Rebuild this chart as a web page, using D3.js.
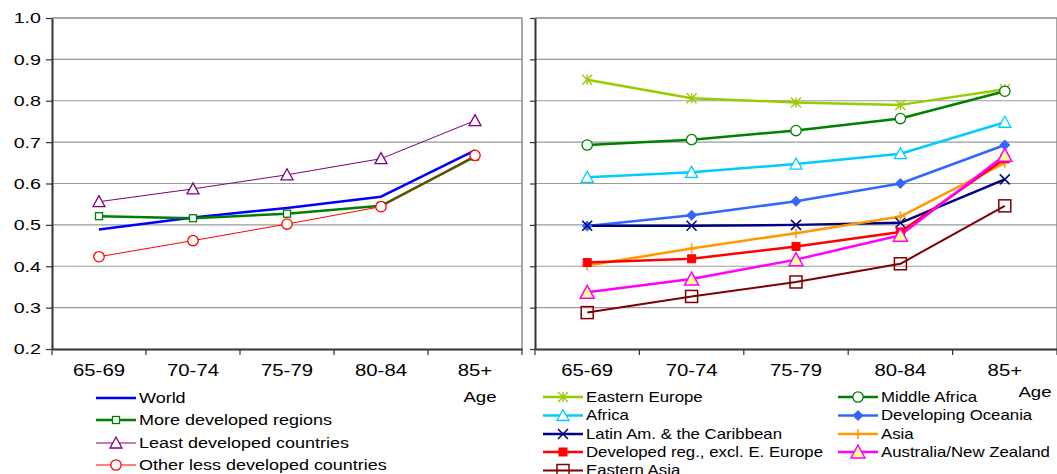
<!DOCTYPE html>
<html><head><meta charset="utf-8">
<script src="https://cdn.jsdelivr.net/npm/d3@7"></script>
<style>body{margin:0;background:#fff}svg{display:block;font-family:"Liberation Sans",Arial,sans-serif}</style>
</head><body><svg id="c" width="1057" height="474"></svg>
<script>
const ages = ["65-69","70-74","75-79","80-84","85+"];
const yTicks = [0.2,0.3,0.4,0.5,0.6,0.7,0.8,0.9,1.0];

// Left panel
const world = [0.489,0.518,0.541,0.568,0.680];
const moreDeveloped = [0.521,0.516,0.527,0.546,0.665];
const leastDeveloped = [0.556,0.587,0.621,0.660,0.752];
const otherLessDeveloped = [0.423,0.462,0.502,0.544,0.668];

// Right panel
const easternEurope = [0.851,0.806,0.796,0.790,0.828];
const middleAfrica = [0.693,0.706,0.728,0.757,0.823];
const africa = [0.615,0.627,0.647,0.672,0.748];
const developingOceania = [0.497,0.523,0.557,0.600,0.693];
const latinAm = [0.498,0.498,0.500,0.505,0.610];
const asia = [0.402,0.443,0.480,0.520,0.650];
const developedExclEE = [0.409,0.418,0.448,0.483,0.660];
const ausNZ = [0.337,0.369,0.416,0.475,0.668];
const easternAsia = [0.288,0.327,0.362,0.406,0.546];

const leftSeries = [
  {name:"World", values:world, color:"#0000FF", w:2.5, marker:"none"},
  {name:"More developed regions", values:moreDeveloped, color:"#008000", w:2.5, marker:"squareSmall", fill:"#fff"},
  {name:"Least developed countries", values:leastDeveloped, color:"#800080", w:1, marker:"triangle", fill:"#fff"},
  {name:"Other less developed countries", values:otherLessDeveloped, color:"#FF0000", w:1, marker:"circle", fill:"#fff"}
];
const rightSeries = [
  {name:"Eastern Europe", values:easternEurope, color:"#99CC00", w:2.5, marker:"star"},
  {name:"Middle Africa", values:middleAfrica, color:"#008000", w:2.5, marker:"circle", fill:"#fff"},
  {name:"Africa", values:africa, color:"#00CCFF", w:2.5, marker:"triangle", fill:"#fff"},
  {name:"Developing Oceania", values:developingOceania, color:"#3366FF", w:2.5, marker:"diamond", fill:"#3366FF"},
  {name:"Latin Am. & the Caribbean", values:latinAm, color:"#000080", w:2.5, marker:"x"},
  {name:"Asia", values:asia, color:"#FF9900", w:2.5, marker:"plus"},
  {name:"Developed reg., excl. E. Europe", values:developedExclEE, color:"#FF0000", w:2.5, marker:"squareFilled", fill:"#FF0000"},
  {name:"Australia/New Zealand", values:ausNZ, color:"#FF00FF", w:2.5, marker:"triangleBig", fill:"#FFFF99"},
  {name:"Eastern Asia", values:easternAsia, color:"#800000", w:2, marker:"squareBig", fill:"none"}
];

const svg = d3.select("#c");
const yTop = 18, yBot = 349;
const y = d3.scaleLinear().domain([0.2,1.0]).range([yBot,yTop]);
const SX = 1.27;   // horizontal stretch of axis texts
const LSX = 1.2;   // horizontal stretch of legend texts

function drawMarker(g, type, x, yy, s){
  const c = s.color;
  if(type==="none") return;
  if(type==="circle"){
    g.append("circle").attr("cx",x).attr("cy",yy).attr("r",5.2).attr("fill",s.fill||"#fff").attr("stroke",c).attr("stroke-width",1.3);
  } else if(type==="squareSmall"){
    g.append("rect").attr("x",x-3.5).attr("y",yy-3.5).attr("width",7).attr("height",7).attr("fill",s.fill||"#fff").attr("stroke",c).attr("stroke-width",1.3);
  } else if(type==="squareFilled"){
    g.append("rect").attr("x",x-4).attr("y",yy-4).attr("width",8).attr("height",8).attr("fill",c).attr("stroke",c);
  } else if(type==="squareBig"){
    g.append("rect").attr("x",x-6).attr("y",yy-6).attr("width",12).attr("height",12).attr("fill","none").attr("stroke",c).attr("stroke-width",1.5);
  } else if(type==="triangle"){
    g.append("path").attr("d",`M${x},${yy-6}L${x+6},${yy+5}L${x-6},${yy+5}Z`).attr("fill",s.fill||"#fff").attr("stroke",c).attr("stroke-width",1.3);
  } else if(type==="triangleBig"){
    g.append("path").attr("d",`M${x},${yy-7}L${x+7},${yy+6}L${x-7},${yy+6}Z`).attr("fill",s.fill).attr("stroke",c).attr("stroke-width",1.5);
  } else if(type==="diamond"){
    g.append("path").attr("d",`M${x},${yy-5.5}L${x+5.5},${yy}L${x},${yy+5.5}L${x-5.5},${yy}Z`).attr("fill",c);
  } else if(type==="x"){
    g.append("path").attr("d",`M${x-5},${yy-5}L${x+5},${yy+5}M${x-5},${yy+5}L${x+5},${yy-5}`).attr("stroke",c).attr("stroke-width",1.5);
  } else if(type==="plus"){
    g.append("path").attr("d",`M${x-5},${yy}L${x+5},${yy}M${x},${yy-5}L${x},${yy+5}`).attr("stroke",c).attr("stroke-width",1.5);
  } else if(type==="star"){
    g.append("path").attr("d",`M${x-5},${yy-5}L${x+5},${yy+5}M${x-5},${yy+5}L${x+5},${yy-5}M${x},${yy-5}L${x},${yy+5}`).attr("stroke",c).attr("stroke-width",1.4);
  }
}

function panel(x0, x1, series, showYLabels){
  const x = d3.scaleBand().domain(ages).range([x0,x1]);
  const g = svg.append("g");
  g.selectAll(".grid").data(yTicks.filter(t=>t>0.2 && t<1.0)).join("line")
    .attr("x1",x0).attr("x2",x1).attr("y1",d=>y(d)).attr("y2",d=>y(d))
    .attr("stroke","#9a9a9a").attr("stroke-width",1.2);
  g.append("line").attr("x1",x0).attr("x2",x1).attr("y1",yTop).attr("y2",yTop).attr("stroke","#8a8a8a").attr("stroke-width",1.5);
  g.append("line").attr("x1",x1).attr("x2",x1).attr("y1",yTop).attr("y2",yBot).attr("stroke","#8a8a8a").attr("stroke-width",1.5);
  const ya = g.append("g").attr("transform",`translate(${x0},0)`)
    .call(d3.axisLeft(y).tickValues(yTicks).tickFormat(showYLabels?d3.format(".1f"):"").tickSize(showYLabels?6:5).tickSizeOuter(0));
  ya.select(".domain").attr("stroke","#333").attr("stroke-width",2);
  ya.selectAll(".tick line").attr("stroke","#333").attr("stroke-width",1.2);
  ya.selectAll("text").attr("font-size",15.5).attr("fill","#000").attr("x",-11/SX)
    .attr("transform",`scale(${SX},1)`).attr("font-family","'Liberation Sans',Arial,sans-serif");
  const xa = g.append("g").attr("transform",`translate(0,${yBot})`)
    .call(d3.axisBottom(x).tickSize(0).tickPadding(16));
  xa.select(".domain").attr("stroke","#333").attr("stroke-width",2);
  xa.selectAll("text").attr("font-size",16).attr("fill","#000")
    .attr("transform",`scale(${SX},1)`).attr("font-family","'Liberation Sans',Arial,sans-serif");
  const bounds = ages.map(a=>x(a)).concat([x1]);
  g.selectAll(".xt").data(bounds).join("line")
    .attr("x1",d=>d).attr("x2",d=>d).attr("y1",yBot).attr("y2",yBot+6).attr("stroke","#333").attr("stroke-width",1.2);
  const line = d3.line().x((d,i)=>x(ages[i])+x.bandwidth()/2).y(d=>y(d));
  series.forEach(s=>{
    g.append("path").datum(s.values).attr("d",line).attr("fill","none").attr("stroke",s.color).attr("stroke-width",s.w).attr("stroke-linejoin","round");
  });
  series.forEach(s=>{
    const mg = g.append("g");
    s.values.forEach((v,i)=>drawMarker(mg, s.marker, x(ages[i])+x.bandwidth()/2, y(v), s));
  });
  return x;
}

panel(52, 522, leftSeries, true);
panel(535, 1057, rightSeries, false);

function stretchedText(x, yy, txt, fs, sx, anchor){
  return svg.append("text").attr("transform",`translate(${x},${yy}) scale(${sx},1)`)
    .attr("text-anchor",anchor||"start").attr("dy","0.35em").attr("font-size",fs).attr("fill","#000").text(txt);
}
stretchedText(480, 397, "Age", 15.5, LSX, "middle");
stretchedText(1035, 392, "Age", 15.5, LSX, "middle");

function legendItem(lx, ly, s, fs, len){
  const g = svg.append("g");
  g.append("line").attr("x1",lx).attr("x2",lx+len).attr("y1",ly).attr("y2",ly).attr("stroke",s.color).attr("stroke-width",s.w);
  drawMarker(g, s.marker, lx+len/2, ly, s);
  stretchedText(lx+len+3, ly, s.name, fs, LSX, "start");
}
const leftRows = [398,420,443,465];
leftSeries.forEach((s,i)=>legendItem(96, leftRows[i], s, 15, 40));

const rightRows = [397,415.5,434,452,470.5];
const col1 = [0,2,4,6,8], col2 = [1,3,5,7];
col1.forEach((si,i)=>legendItem(543, rightRows[i], rightSeries[si], 14, 40));
col2.forEach((si,i)=>legendItem(838, rightRows[i], rightSeries[si], 14, 40));
</script></body></html>
